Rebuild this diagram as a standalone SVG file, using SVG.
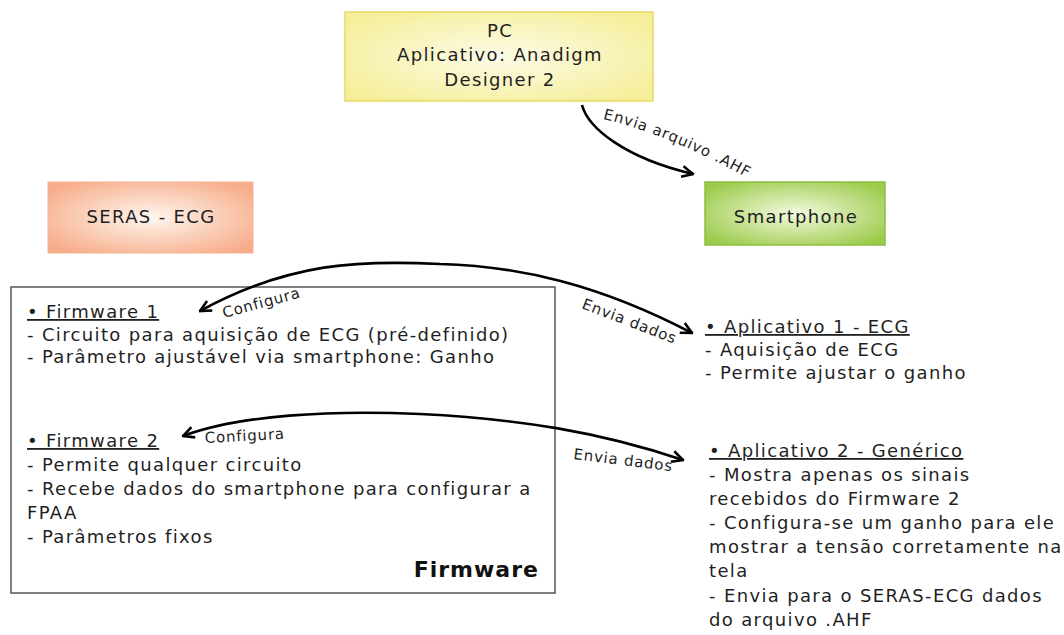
<svg xmlns="http://www.w3.org/2000/svg" width="1064" height="635" viewBox="0 0 1064 635">
  <style>
    .t { font-family: "DejaVu Sans", Verdana, sans-serif; font-size: 18px; letter-spacing: 1.35px; fill: #1f1f1f; }
    .u { text-decoration: underline; }
    .lbl { font-family: "DejaVu Sans", Verdana, sans-serif; font-size: 15px; letter-spacing: 0.8px; fill: #1f1f1f; }
    .bold { font-family: "DejaVu Sans", Verdana, sans-serif; font-size: 22px; font-weight: bold; letter-spacing: 1px; fill: #111; }
    .conn { fill: none; stroke: #000; stroke-width: 2.6; }
  </style>
  <defs>
    <radialGradient id="gY" cx="50%" cy="50%" r="60%">
      <stop offset="0" stop-color="#fdfbe8"/>
      <stop offset="1" stop-color="#f5ef9c"/>
    </radialGradient>
    <radialGradient id="gO" cx="50%" cy="50%" r="62%">
      <stop offset="0" stop-color="#fef6ef"/>
      <stop offset="1" stop-color="#f7ad8a"/>
    </radialGradient>
    <radialGradient id="gG" cx="50%" cy="50%" r="62%">
      <stop offset="0" stop-color="#f4fadf"/>
      <stop offset="1" stop-color="#9ccb4c"/>
    </radialGradient>
    <marker id="ah" viewBox="0 0 14 14" refX="12.5" refY="7" markerWidth="14" markerHeight="14" markerUnits="userSpaceOnUse" orient="auto-start-reverse">
      <path d="M1.5,1.5 L12.5,7 L1.5,12.5" fill="none" stroke="#000" stroke-width="2.6"/>
    </marker>
    <path id="lp1" d="M603,119 C640,127 700,150 758,184"/>
  </defs>

  <g id="pc">
    <rect x="345" y="12" width="308" height="89" fill="url(#gY)" stroke="#e6da62" stroke-width="1.5"/>
    <text class="t" x="500" y="37" text-anchor="middle">PC</text>
    <text class="t" x="500" y="61" text-anchor="middle">Aplicativo: Anadigm</text>
    <text class="t" x="500" y="86" text-anchor="middle">Designer 2</text>
  </g>

  <g id="seras">
    <rect x="48" y="182" width="205" height="71" fill="url(#gO)" stroke="#f5b394" stroke-width="1"/>
    <text class="t" x="151" y="223" text-anchor="middle">SERAS - ECG</text>
  </g>

  <g id="smartphone">
    <rect x="705" y="182" width="180" height="63" fill="url(#gG)" stroke="#8cbd42" stroke-width="1.5"/>
    <text class="t" x="796" y="223" text-anchor="middle">Smartphone</text>
  </g>

  <g id="firmware">
    <rect x="11" y="287" width="544" height="306" fill="#fff" stroke="#555" stroke-width="1.5"/>
    <text class="t u" x="27" y="318">• Firmware 1</text>
    <text class="t" x="27" y="341">- Circuito para aquisição de ECG (pré-definido)</text>
    <text class="t" x="27" y="363">- Parâmetro ajustável via smartphone: Ganho</text>
    <text class="t u" x="27" y="447">• Firmware 2</text>
    <text class="t" x="27" y="471">- Permite qualquer circuito</text>
    <text class="t" x="27" y="495">- Recebe dados do smartphone para configurar a</text>
    <text class="t" x="27" y="519">FPAA</text>
    <text class="t" x="27" y="543">- Parâmetros fixos</text>
    <text class="bold" x="539" y="577" text-anchor="end">Firmware</text>
  </g>

  <g id="app1">
    <text class="t u" x="705" y="333">• Aplicativo 1 - ECG</text>
    <text class="t" x="705" y="356">- Aquisição de ECG</text>
    <text class="t" x="705" y="379">- Permite ajustar o ganho</text>
  </g>

  <g id="app2">
    <text class="t u" x="709" y="457">• Aplicativo 2 - Genérico</text>
    <text class="t" x="709" y="481">- Mostra apenas os sinais</text>
    <text class="t" x="709" y="505">recebidos do Firmware 2</text>
    <text class="t" x="709" y="529">- Configura-se um ganho para ele</text>
    <text class="t" x="709" y="553">mostrar a tensão corretamente na</text>
    <text class="t" x="709" y="577">tela</text>
    <text class="t" x="709" y="602">- Envia para o SERAS-ECG dados</text>
    <text class="t" x="709" y="626">do arquivo .AHF</text>
  </g>

  <g id="connectors">
    <path class="conn" d="M582,105 C588,128 625,158 693,174" marker-end="url(#ah)"/>
    <path class="conn" d="M200,311 C290,262 360,260 440,264 C520,266 600,285 692,333" marker-start="url(#ah)" marker-end="url(#ah)"/>
    <path class="conn" d="M183,436 C240,415 330,410 420,414 C520,419 600,432 683,460" marker-start="url(#ah)" marker-end="url(#ah)"/>
    <text class="lbl"><textPath href="#lp1">Envia arquivo .AHF</textPath></text>
    <text class="lbl" transform="translate(224,318) rotate(-15)">Configura</text>
    <text class="lbl" transform="translate(581,308) rotate(21)">Envia dados</text>
    <text class="lbl" transform="translate(205,443) rotate(-3)">Configura</text>
    <text class="lbl" transform="translate(573,459) rotate(7)">Envia dados</text>
  </g>
</svg>
